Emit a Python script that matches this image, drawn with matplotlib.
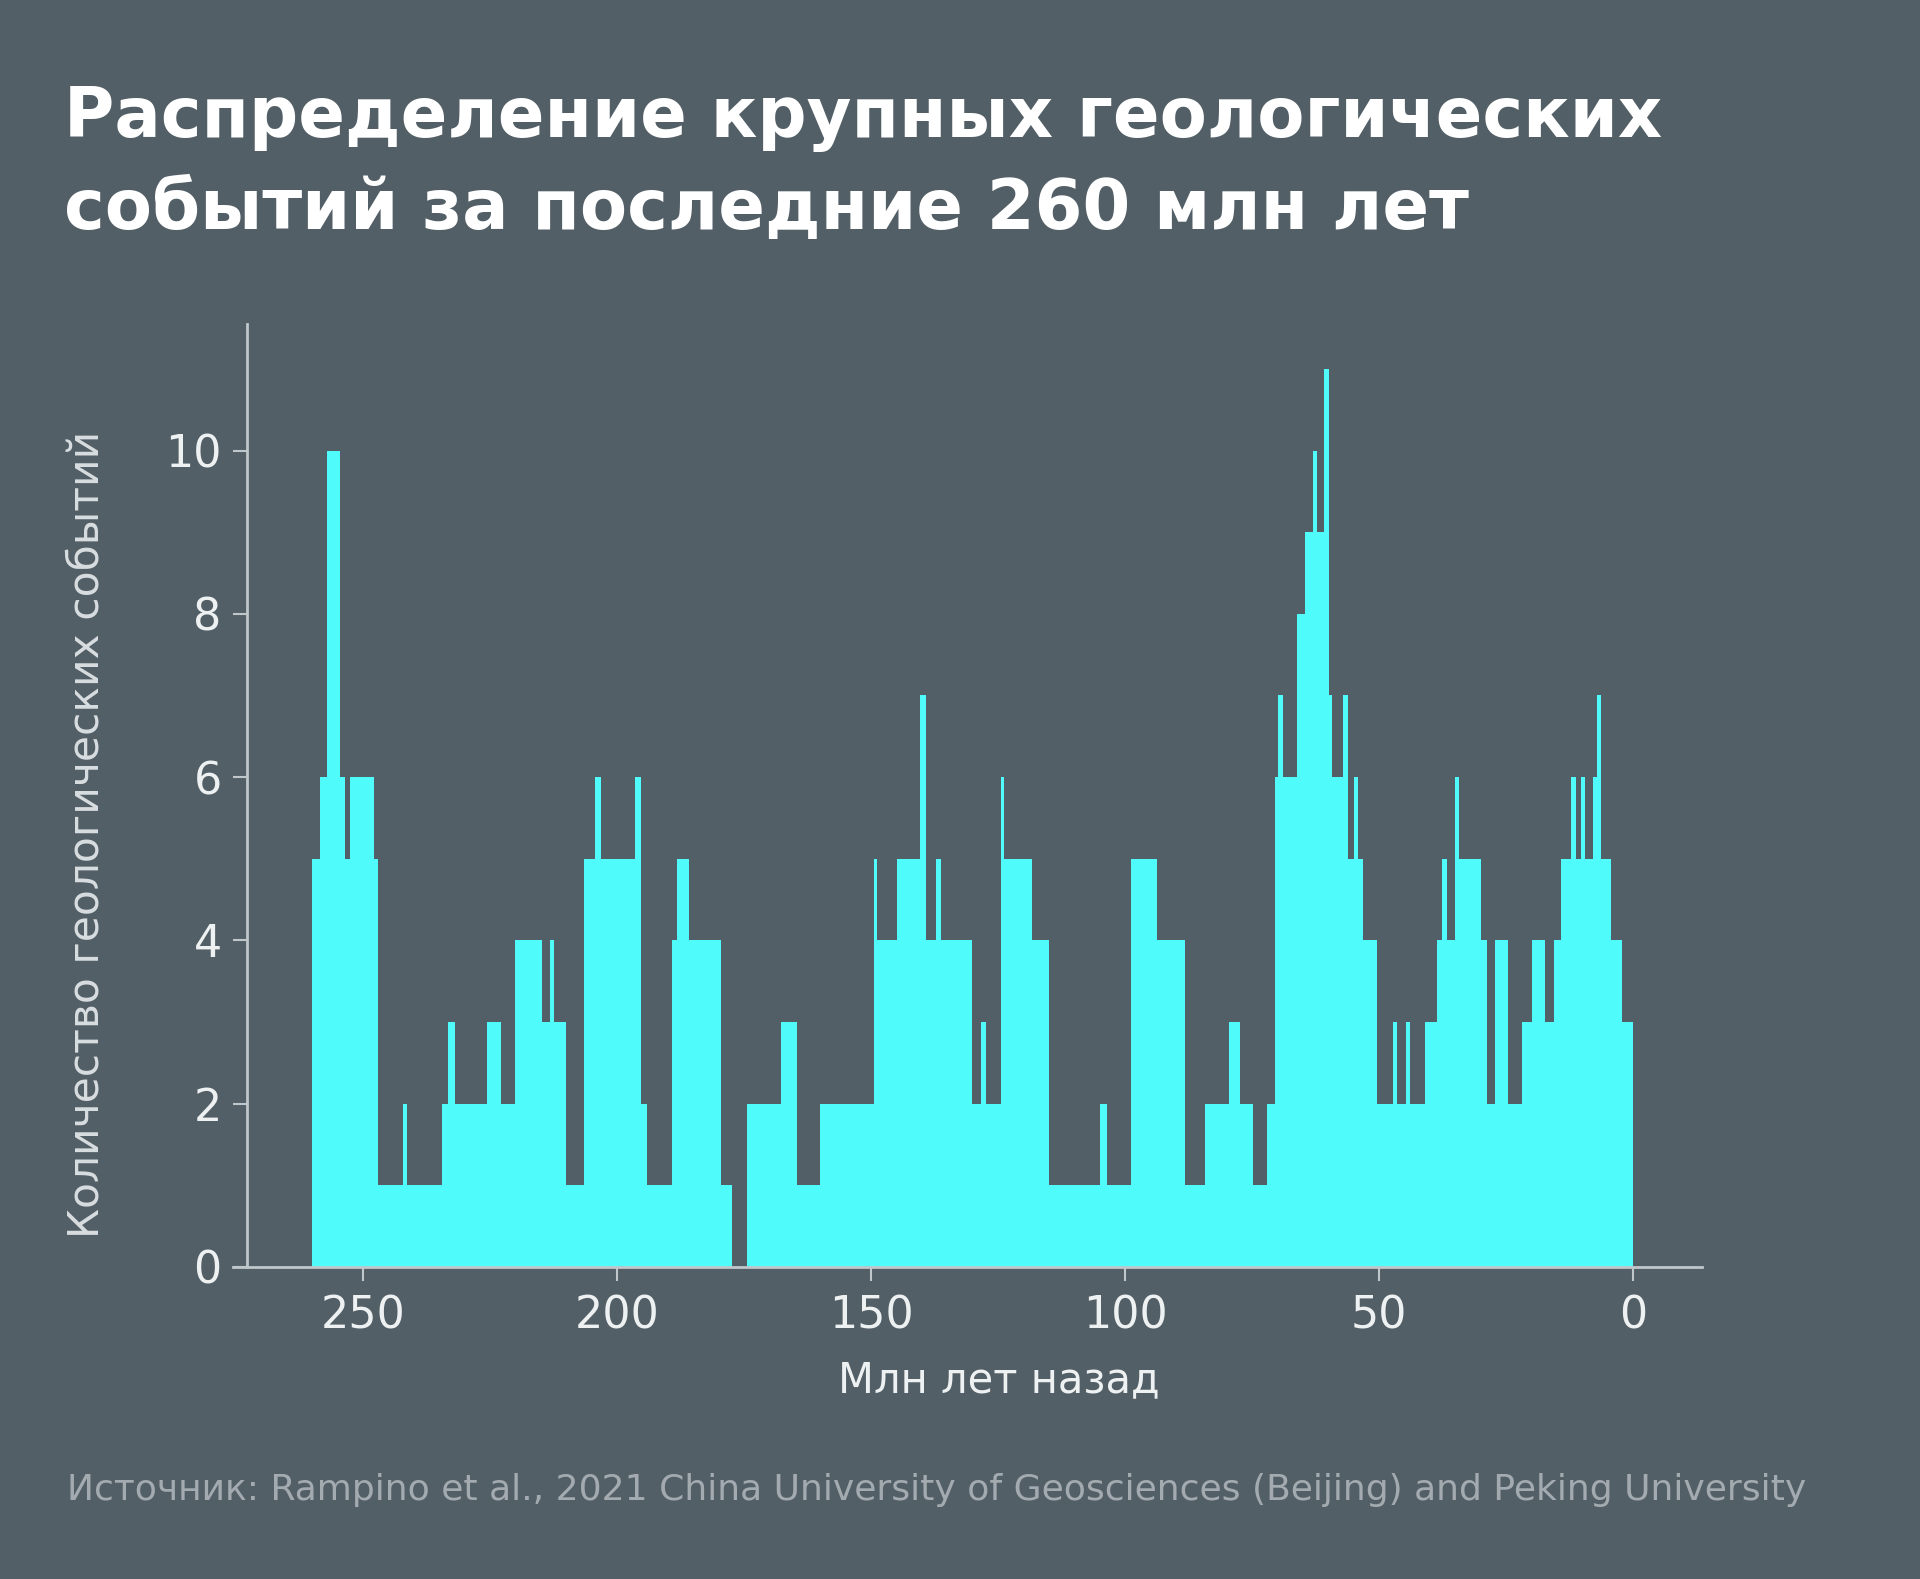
import matplotlib
matplotlib.use("Agg")
import matplotlib.pyplot as plt
import numpy as np

# Step edges (million years ago, oldest first) and event counts per step
edges_ma = [260.0, 258.5, 257.1, 254.5, 253.6, 252.5, 247.8, 247.1, 242.2, 241.4,
            234.5, 233.2, 231.9, 225.6, 222.9, 220.1, 214.8, 213.3, 212.4, 210.0,
            206.5, 204.4, 203.1, 196.5, 195.3, 194.2, 189.2, 188.3, 185.9, 179.6,
            177.3, 174.5, 167.7, 164.7, 160.0, 149.5, 148.9, 144.9, 140.3, 139.2,
            137.2, 136.3, 130.1, 128.3, 127.4, 124.4, 123.8, 118.3, 115.0, 105.0,
            103.5, 98.9, 93.8, 88.2, 84.3, 79.5, 77.5, 74.9, 72.1, 70.6,
            70.0, 69.0, 66.2, 64.7, 63.1, 62.3, 60.9, 60.0, 59.4, 57.1,
            56.2, 55.0, 54.2, 53.2, 50.4, 47.3, 46.5, 44.8, 44.0, 41.0,
            38.7, 37.7, 36.7, 35.1, 34.4, 30.0, 28.9, 27.2, 24.6, 22.0,
            20.0, 17.4, 15.7, 14.3, 12.3, 11.2, 10.3, 9.5, 7.9, 7.2,
            6.4, 4.5, 2.2, 0.0]
counts = [5, 6, 10, 6, 5, 6, 5, 1, 2, 1,
          2, 3, 2, 3, 2, 4, 3, 4, 3, 1,
          5, 6, 5, 6, 2, 1, 4, 5, 4, 1,
          0, 2, 3, 1, 2, 5, 4, 5, 7, 4,
          5, 4, 2, 3, 2, 6, 5, 4, 1, 2,
          1, 5, 4, 1, 2, 3, 2, 1, 2, 6,
          7, 6, 8, 9, 10, 9, 11, 7, 6, 7,
          5, 6, 5, 4, 2, 3, 2, 3, 2, 3,
          4, 5, 4, 6, 5, 4, 2, 4, 2, 3,
          4, 3, 4, 5, 6, 5, 6, 5, 6, 7,
          5, 4, 3]

x_ticks = [250, 200, 150, 100, 50, 0]
y_ticks = [0, 2, 4, 6, 8, 10]

title_lines = ["Распределение крупных геологических",
               "событий за последние 260 млн лет"]
x_label = "Млн лет назад"
y_label = "Количество геологических событий"
source = ("Источник: Rampino et al., 2021 China University of Geosciences "
          "(Beijing) and Peking University")

BG = "#535F66"
CYAN = "#4FFBFB"
AXIS = "#BFC7CB"
TEXT = "#EEF1F2"

plt.rcParams['font.family'] = ['DejaVu Sans']

W, H = 1920, 1579
fig = plt.figure(figsize=(19.2, 15.79), dpi=100, facecolor=BG)
ax = fig.add_axes([233/W, 1 - 1267/H, (1702-233)/W, (1267-324)/H])
ax.set_facecolor(BG)

e = np.array(edges_ma)[::-1]
c = np.array(counts)[::-1]
ax.stairs(c, e, fill=True, color=CYAN, baseline=0, linewidth=0)

ax.set_xlim(275.6, -13.5)
ax.set_ylim(0, 11.55)
ax.set_xticks(x_ticks)
ax.set_yticks(y_ticks)

for s in ['top', 'right']:
    ax.spines[s].set_visible(False)
ax.spines['left'].set_position(('data', 272.9))
for s in ['left', 'bottom']:
    ax.spines[s].set_color(AXIS)
    ax.spines[s].set_linewidth(2)

ax.tick_params(axis='both', colors=AXIS, length=10, width=1.5,
               labelcolor=TEXT, labelsize=32)
ax.tick_params(axis='x', pad=10)
ax.tick_params(axis='y', pad=8)

ax.set_xlabel(x_label, fontsize=30, color=TEXT, va='center')
ax.xaxis.set_label_coords(0.521, -0.120)
ax.set_ylabel(y_label, fontsize=30.5, color="#D8DDE0", va='center')
ax.yaxis.set_label_coords(-0.0994, 0.459)

fig.text(64/W, 1 - 137/H, title_lines[0], fontsize=49.5, fontweight='bold',
         color="white", ha='left', va='baseline')
fig.text(64/W, 1 - 229/H, title_lines[1], fontsize=49.5, fontweight='bold',
         color="white", ha='left', va='baseline')
fig.text(67/W, 1 - 1490/H, source, fontsize=26, color="#A3ABB0",
         ha='left', va='center')

fig.savefig("out.png", dpi=100, facecolor=BG)
